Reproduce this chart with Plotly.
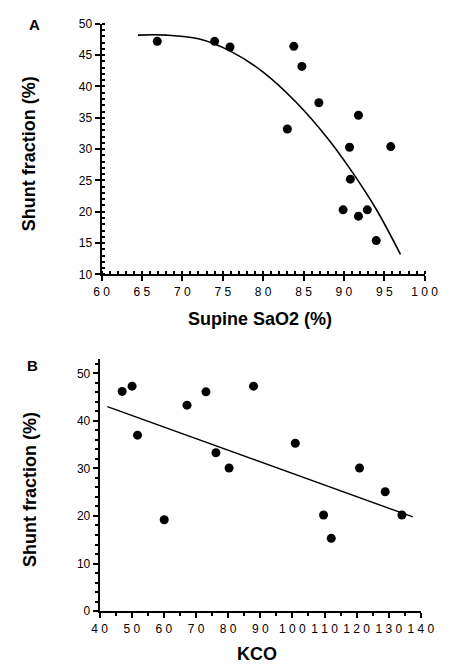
import plotly.graph_objects as go

# The page body has an 8px default margin, so the figure is drawn 8px smaller
# and all reference pixel positions are shifted by that offset.
OFF = 8
W, H = 452 - OFF, 669 - OFF

# Panel A data
sao2 = [66.9, 74.0, 75.9, 83.0, 83.8, 84.8, 86.9, 89.9, 90.7, 90.8, 91.8, 91.8, 92.9, 94.0, 95.8]
shunt_a = [47.2, 47.2, 46.3, 33.2, 46.4, 43.2, 37.4, 20.3, 30.3, 25.2, 35.4, 19.3, 20.3, 15.4, 30.4]
# fitted curve
curve_x = [64.5, 68, 72, 76, 80, 84, 88, 91, 94, 97]
curve_y = [48.2, 48.2, 47.6, 45.6, 42.3, 37.6, 31.7, 26.4, 20.4, 13.2]

# Panel B data
kco = [47.0, 50.1, 51.8, 60.1, 67.2, 73.1, 76.2, 80.3, 87.9, 100.9, 109.7, 112.1, 120.9, 128.9, 134.1]
shunt_b = [46.2, 47.3, 37.0, 19.2, 43.3, 46.1, 33.3, 30.1, 47.3, 35.3, 20.2, 15.3, 30.1, 25.1, 20.2]
line_x = [42.4, 137.5]
line_y = [43.0, 19.8]

xa_ticks = [60, 65, 70, 75, 80, 85, 90, 95, 100]
ya_ticks = [10, 15, 20, 25, 30, 35, 40, 45, 50]
xb_ticks = [40, 50, 60, 70, 80, 90, 100, 110, 120, 130, 140]
yb_ticks = [0, 10, 20, 30, 40, 50]

FONT = "Arial, 'Liberation Sans', Helvetica, sans-serif"

def spaced(v):
    return " ".join(str(v))

def px(x):
    return (x - OFF) / W

def py(y):
    return 1 - (y - OFF) / H

fig = go.Figure()
fig.add_trace(go.Scatter(x=curve_x, y=curve_y, mode="lines", line=dict(color="black", width=1.6, shape="spline"),
                         xaxis="x", yaxis="y", showlegend=False))
fig.add_trace(go.Scatter(x=sao2, y=shunt_a, mode="markers", marker=dict(color="black", size=9),
                         xaxis="x", yaxis="y", showlegend=False))
fig.add_trace(go.Scatter(x=line_x, y=line_y, mode="lines", line=dict(color="black", width=1.4),
                         xaxis="x2", yaxis="y2", showlegend=False))
fig.add_trace(go.Scatter(x=kco, y=shunt_b, mode="markers", marker=dict(color="black", size=9),
                         xaxis="x2", yaxis="y2", showlegend=False))

axis_common = dict(showgrid=False, zeroline=False, showline=True, linecolor="black", linewidth=2,
                   ticks="outside", ticklen=5, tickwidth=1.5, tickcolor="black",
                   tickfont=dict(family=FONT, size=12, color="black"))

fig.update_layout(
    width=W, height=H,
    margin=dict(l=0, r=0, t=0, b=0),
    paper_bgcolor="white", plot_bgcolor="white",
    xaxis=dict(axis_common, domain=[px(98), px(438)], range=[60, 100], anchor="y",
               tickmode="array", tickvals=xa_ticks, ticktext=[spaced(v) for v in xa_ticks],
               minor=dict(dtick=1, ticks="inside", ticklen=3, tickcolor="black", tickwidth=1.5)),
    yaxis=dict(axis_common, domain=[py(273), py(17)], range=[10, 50], anchor="x",
               tickmode="array", tickvals=ya_ticks, ticktext=[str(v) for v in ya_ticks],
               minor=dict(dtick=1, ticks="inside", ticklen=3, tickcolor="black", tickwidth=1.5)),
    xaxis2=dict(axis_common, domain=[px(96), px(434)], range=[40, 140], anchor="y2",
                tickmode="array", tickvals=xb_ticks, ticktext=[spaced(v) for v in xb_ticks],
                minor=dict(dtick=5, ticks="outside", ticklen=3, tickcolor="black", tickwidth=1.5)),
    yaxis2=dict(axis_common, domain=[py(617), py(359)], range=[0, 53.1], anchor="x2",
                tickmode="array", tickvals=yb_ticks, ticktext=[str(v) for v in yb_ticks],
                minor=dict(dtick=2, ticks="outside", ticklen=3, tickcolor="black", tickwidth=1.5)),
)

def ann(text, x, y, size=18, angle=0):
    fig.add_annotation(text=text, x=px(x), y=py(y), xref="paper", yref="paper",
                       xanchor="center", yanchor="middle", showarrow=False, textangle=angle,
                       font=dict(family=FONT, size=size, color="black"))

ann("<b>A</b>", 27, 18, size=15)
ann("<b>B</b>", 25, 366, size=15)
ann("<b>Shunt fraction (%)</b>", 22, 150, angle=-90)
ann("<b>Supine SaO2 (%)</b>", 265, 319)
ann("<b>Shunt fraction (%)</b>", 22, 493, angle=-90)
ann("<b>KCO</b>", 262, 661)

fig.write_html("out.html")
